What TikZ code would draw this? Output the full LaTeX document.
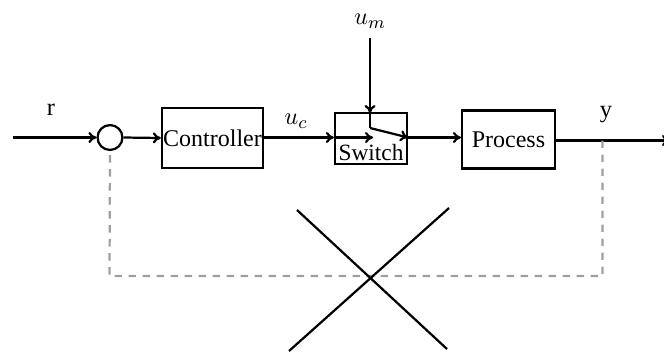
\documentclass[tikz,border=0pt]{standalone}
\usepackage{fontspec}
\setmainfont{Liberation Serif}
\usetikzlibrary{arrows.meta}
\begin{document}
\begin{tikzpicture}[x=0.45pt,y=-0.45pt,
  line width=1pt,
  blk/.style={draw,rectangle,inner sep=0pt,font=\fontsize{10.8}{12}\selectfont},
  sig/.style={->,>={To[length=3.6pt,width=5pt]}},
  lbl/.style={inner sep=0pt,font=\fontsize{11}{13}\selectfont},
  fb/.style={draw=gray!75,dash pattern=on 3.3pt off 3pt}]
\useasboundingbox (0,0) rectangle (664,352);
% nodes
\node[draw,circle,minimum size=11.2pt,inner sep=0pt] (sum) at (110,137.5) {};
\node[blk,minimum width=45.5pt,minimum height=27pt] (ctrl) at (212.5,138) {Controller};
\node[draw,rectangle,minimum width=32.4pt,minimum height=23pt,inner sep=0pt] (sw) at (371,138.5) {};
\node[lbl,font=\fontsize{10.5}{12}\selectfont] (swl) at (371,153) {Switch};
\node[blk,minimum width=41.8pt,minimum height=26.1pt] (proc) at (508.5,139.5) {Process};
% coordinates
\coordinate (in) at (13,137.5);
\coordinate (out) at (670,140.5);
\coordinate (umtop) at (370,38);
\coordinate (swin) at (373,137.5);
\coordinate (swpiv) at (370,128);
\coordinate (swout) at (sw.east |- 0,137.5);
\coordinate (swtop) at (370,113);
\coordinate (fbr) at (602.5,140.5);
\coordinate (fbbr) at (602.5,276);
\coordinate (fbbl) at (109.5,276);
\coordinate (cx1) at (297,210);
\coordinate (cx2) at (447,349);
\coordinate (cx3) at (449,208);
\coordinate (cx4) at (289,351);
% labels
\node[lbl] (r) at (51,110) {r};
\node[lbl] (uc) at (296,121) {$u_c$};
\node[lbl] (um) at (370,21) {$u_m$};
\node[lbl] (y) at (606,115) {y};
% connectors
\draw[sig] (in) -- (sum.west);
\draw[sig] (sum.east) -- (ctrl.west);
\draw[sig] (ctrl.east |- 0,137.5) -- (sw.west |- 0,137.5);
\draw[sig] (sw.west |- 0,137.5) -- (swin);
\draw[sig] (umtop) -- (swtop);
\draw (swtop) -- (swpiv);
\draw[sig] (swpiv) -- (swout);
\draw[sig] (swout) -- (proc.west |- swout);
\draw[sig] (proc.east |- out) -- (out);
\draw[fb] (fbr) -- (fbbr) -- (fbbl) -- (sum.south);
% cross
\draw (cx1) -- (cx2);
\draw (cx3) -- (cx4);
\end{tikzpicture}
\end{document}
